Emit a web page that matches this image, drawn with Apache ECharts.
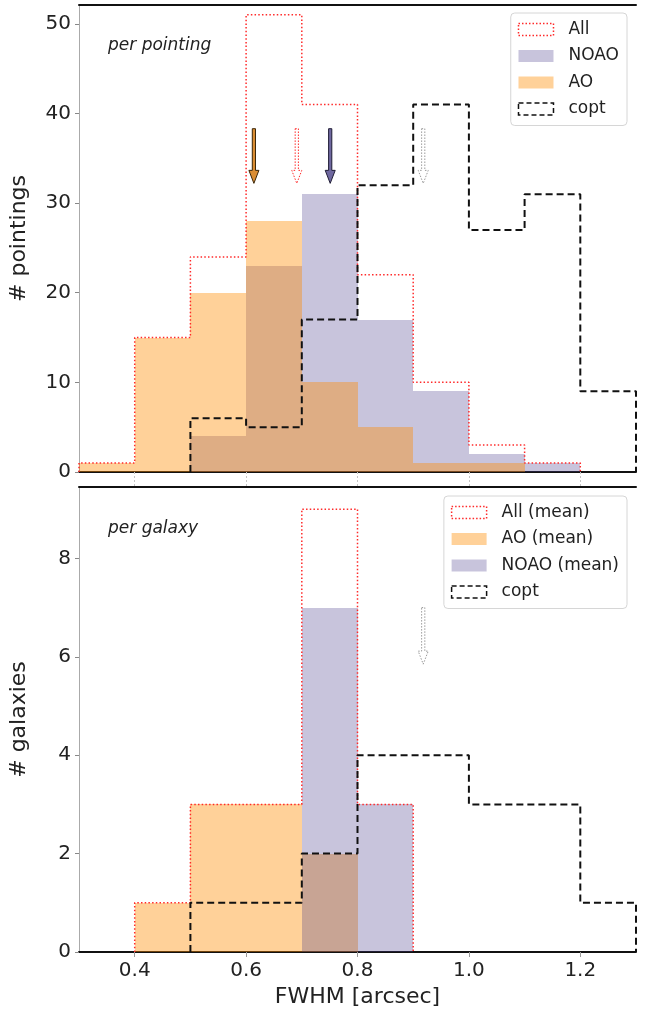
<!DOCTYPE html>
<html>
<head>
<meta charset="utf-8">
<script src="https://cdn.jsdelivr.net/npm/echarts@6/dist/echarts.min.js"></script>
<style>
  html, body { margin: 0; padding: 0; background: #fff; }
  #chart { width: 648px; height: 1010px; }
</style>
</head>
<body>
<div id="chart"></div>
<script>
// FWHM histogram bins (arcsec), 0.1" wide
const binEdges = [0.3, 0.4, 0.5, 0.6, 0.7, 0.8, 0.9, 1.0, 1.1, 1.2, 1.3];

// Counts per pointing
const pointAll  = [1, 15, 24, 51, 41, 22, 10, 3, 1, 0];
const pointNOAO = [0, 0, 4, 23, 31, 17, 9, 2, 1, 0];
const pointAO   = [1, 15, 20, 28, 10, 5, 1, 1, 0, 0];
const pointCopt = [0, 0, 6, 5, 17, 32, 41, 27, 31, 9];

// Counts per galaxy (mean FWHM)
const galAll  = [0, 1, 3, 3, 9, 3, 0, 0, 0, 0];
const galAO   = [0, 1, 3, 3, 2, 0, 0, 0, 0, 0];
const galNOAO = [0, 0, 0, 0, 7, 3, 0, 0, 0, 0];
const galCopt = [0, 0, 1, 1, 2, 4, 4, 3, 3, 1];

// Mean FWHM markers (arrows): AO, All, NOAO, copt
const meanNames = ['AO', 'All', 'NOAO', 'copt'];
const meanFWHM  = [0.614, 0.691, 0.751, 0.918];
const galMeanNames = ['copt'];
const galMeanFWHM  = [0.918];

// Tick labels
const xTicks = [0.4, 0.6, 0.8, 1.0, 1.2];
const yTicksTop = [0, 10, 20, 30, 40, 50];
const yTicksBottom = [0, 2, 4, 6, 8];

// Arrow vertical extent in each panel (tail, tip), in count units
const arrowSpanTop = [38.3, 32.2];
const arrowSpanBottom = [7.0, 5.85];

const FONT = 'DejaVu Sans';
const AO_FILL = 'rgba(255,140,0,0.4)';
const NOAO_FILL = 'rgba(72,61,139,0.3)';

function stepPoints(counts) {
  // outline of a step histogram, trimmed of empty bins at both ends
  let first = counts.findIndex(c => c > 0);
  let last = counts.length - 1;
  while (last > 0 && counts[last] === 0) last--;
  const pts = [[binEdges[first], 0]];
  for (let i = first; i <= last; i++) {
    pts.push([binEdges[i], counts[i]]);
    pts.push([binEdges[i + 1], counts[i]]);
  }
  pts.push([binEdges[last + 1], 0]);
  return pts;
}

function barData(counts) {
  return counts.map((c, i) => [binEdges[i], binEdges[i + 1], c]).filter(d => d[2] > 0);
}

function renderBar(params, api) {
  const p0 = api.coord([api.value(0), api.value(2)]);
  const p1 = api.coord([api.value(1), 0]);
  const x0 = Math.round(p0[0]), x1 = Math.round(p1[0]);
  const y0 = Math.round(p0[1]), y1 = Math.round(p1[1]);
  return {
    type: 'rect',
    shape: { x: x0, y: y0, width: x1 - x0, height: y1 - y0 },
    style: { fill: api.visual('color') }
  };
}

const arrowStyles = {
  AO:   { fill: 'rgba(215,130,30,0.9)', stroke: '#3b2608', lineWidth: 1, lineDash: null },
  All:  { fill: 'rgba(255,255,255,0)', stroke: '#ff2a2a', lineWidth: 1, lineDash: [1.5, 1.5] },
  NOAO: { fill: 'rgba(95,88,150,0.9)', stroke: '#1f1c35', lineWidth: 1, lineDash: null },
  copt: { fill: 'rgba(255,255,255,0)', stroke: '#9a9a9a', lineWidth: 1, lineDash: [1.5, 1.5] }
};

function makeArrowRenderer(names) {
  return function (params, api) {
    const t = api.coord([api.value(0), api.value(1)]);
    const h = api.coord([api.value(0), api.value(2)]);
    const sw = 1.6, hw = 5, hl = 13;
    const x = t[0], yb = h[1] - hl;
    const s = arrowStyles[names[params.dataIndex]];
    return {
      type: 'polygon',
      shape: {
        points: [
          [x - sw, t[1]], [x + sw, t[1]], [x + sw, yb], [x + hw, yb],
          [x, h[1]], [x - hw, yb], [x - sw, yb]
        ]
      },
      style: { fill: s.fill, stroke: s.stroke, lineWidth: s.lineWidth, lineDash: s.lineDash }
    };
  };
}

function xAxisPair(gridIndex, withLabels) {
  // upper panel: faint ticks reaching across the gap, no labels
  const tickStyle = withLabels
    ? { show: true, inside: false, length: 5, customValues: xTicks, lineStyle: { color: '#999' } }
    : { show: true, inside: false, length: 14, customValues: xTicks,
        lineStyle: { color: '#c4c4c4', type: [2, 2] } };
  return [
    {
      type: 'value', gridIndex, min: 0.3, max: 1.3, position: 'bottom',
      axisLine: { onZero: false, lineStyle: { color: '#111', width: 2 } },
      axisTick: tickStyle,
      axisLabel: {
        show: withLabels, customValues: xTicks, margin: 9,
        formatter: v => Number(v).toFixed(1),
        fontFamily: FONT, fontSize: 20, color: '#222'
      },
      splitLine: { show: false },
      name: withLabels ? 'FWHM [arcsec]' : '',
      nameLocation: 'middle', nameGap: 34,
      nameTextStyle: { fontFamily: FONT, fontSize: 22, color: '#222' }
    },
    {
      type: 'value', gridIndex, min: 0.3, max: 1.3, position: 'top',
      axisLine: { onZero: false, lineStyle: { color: '#111', width: 2 } },
      axisTick: { show: false }, axisLabel: { show: false }, splitLine: { show: false }
    }
  ];
}

function yAxis(gridIndex, max, ticks, name) {
  return {
    type: 'value', gridIndex, min: 0, max,
    axisLine: { show: true, onZero: false, lineStyle: { color: '#aaa', width: 1 } },
    axisTick: { show: true, length: 4, customValues: ticks, lineStyle: { color: '#888' } },
    axisLabel: { customValues: ticks, margin: 8, fontFamily: FONT, fontSize: 20, color: '#222' },
    splitLine: { show: false },
    name, nameLocation: 'middle', nameGap: 49,
    nameTextStyle: { fontFamily: FONT, fontSize: 22, color: '#222' }
  };
}

const legendBase = {
  orient: 'vertical', selectedMode: false,
  right: 21, itemGap: 9.5, padding: [8, 8, 8, 7],
  itemWidth: 35, itemHeight: 12,
  backgroundColor: 'rgba(255,255,255,0.85)',
  borderColor: '#d6d6d6', borderWidth: 1, borderRadius: 4,
  textStyle: { fontFamily: FONT, fontSize: 17, color: '#222', padding: [0, 0, 0, 10] }
};

const legendIcons = {
  all:  { color: 'rgba(0,0,0,0)', borderColor: '#ff2a2a', borderWidth: 1.5, borderType: [1.5, 2] },
  ao:   { color: AO_FILL, borderWidth: 0 },
  noao: { color: NOAO_FILL, borderWidth: 0 },
  copt: { color: 'rgba(0,0,0,0)', borderColor: '#111', borderWidth: 1.5, borderType: [5, 3] }
};

const chart = echarts.init(document.getElementById('chart'), null, { renderer: 'canvas' });

chart.setOption({
  animation: false,
  backgroundColor: '#fff',
  grid: [
    { left: 77, right: 12, top: 5, height: 467 },
    { left: 77, right: 12, top: 487, height: 465 }
  ],
  xAxis: [...xAxisPair(0, false), ...xAxisPair(1, true)],
  yAxis: [
    yAxis(0, 52.1, yTicksTop, '# pointings'),
    yAxis(1, 9.45, yTicksBottom, '# galaxies')
  ],
  legend: [
    Object.assign({}, legendBase, {
      top: 13,
      data: [
        { name: 'All', icon: 'rect', itemStyle: legendIcons.all },
        { name: 'NOAO', icon: 'rect', itemStyle: legendIcons.noao },
        { name: 'AO', icon: 'rect', itemStyle: legendIcons.ao },
        { name: 'copt', icon: 'rect', itemStyle: legendIcons.copt }
      ]
    }),
    Object.assign({}, legendBase, {
      top: 496,
      data: [
        { name: 'All (mean)', icon: 'rect', itemStyle: legendIcons.all },
        { name: 'AO (mean)', icon: 'rect', itemStyle: legendIcons.ao },
        { name: 'NOAO (mean)', icon: 'rect', itemStyle: legendIcons.noao },
        { name: 'copt', icon: 'rect', itemStyle: legendIcons.copt }
      ]
    })
  ],
  graphic: [
    { type: 'text', left: 108, top: 37,
      style: { text: 'per pointing', font: 'italic 17px "DejaVu Sans"', fill: '#222' } },
    { type: 'text', left: 108, top: 520,
      style: { text: 'per galaxy', font: 'italic 17px "DejaVu Sans"', fill: '#222' } }
  ],
  series: [
    // per pointing: NOAO fill, then AO fill on top
    { name: 'NOAO', type: 'custom', xAxisIndex: 0, yAxisIndex: 0, renderItem: renderBar,
      itemStyle: { color: NOAO_FILL }, encode: { x: [0, 1], y: 2 }, data: barData(pointNOAO), z: 2 },
    { name: 'AO', type: 'custom', xAxisIndex: 0, yAxisIndex: 0, renderItem: renderBar,
      itemStyle: { color: AO_FILL }, encode: { x: [0, 1], y: 2 }, data: barData(pointAO), z: 3 },
    { name: 'All', type: 'line', xAxisIndex: 0, yAxisIndex: 0, symbol: 'none', z: 4,
      lineStyle: { color: '#ff2a2a', width: 1.5, type: [1.5, 2.2] }, itemStyle: { color: '#ff2a2a' },
      data: stepPoints(pointAll) },
    { name: 'copt', type: 'line', xAxisIndex: 0, yAxisIndex: 0, symbol: 'none', z: 5,
      lineStyle: { color: '#111', width: 2, type: [7, 4] }, itemStyle: { color: '#111' },
      data: stepPoints(pointCopt) },
    { name: 'means', type: 'custom', xAxisIndex: 0, yAxisIndex: 0, z: 6,
      renderItem: makeArrowRenderer(meanNames), encode: { x: 0, y: [1, 2] },
      data: meanFWHM.map(v => [v, arrowSpanTop[0], arrowSpanTop[1]]) },

    // per galaxy: AO fill, then NOAO fill on top
    { name: 'AO (mean)', type: 'custom', xAxisIndex: 2, yAxisIndex: 1, renderItem: renderBar,
      itemStyle: { color: AO_FILL }, encode: { x: [0, 1], y: 2 }, data: barData(galAO), z: 2 },
    { name: 'NOAO (mean)', type: 'custom', xAxisIndex: 2, yAxisIndex: 1, renderItem: renderBar,
      itemStyle: { color: NOAO_FILL }, encode: { x: [0, 1], y: 2 }, data: barData(galNOAO), z: 3 },
    { name: 'All (mean)', type: 'line', xAxisIndex: 2, yAxisIndex: 1, symbol: 'none', z: 4,
      lineStyle: { color: '#ff2a2a', width: 1.5, type: [1.5, 2.2] }, itemStyle: { color: '#ff2a2a' },
      data: stepPoints(galAll) },
    { name: 'copt', type: 'line', xAxisIndex: 2, yAxisIndex: 1, symbol: 'none', z: 5,
      lineStyle: { color: '#111', width: 2, type: [7, 4] }, itemStyle: { color: '#111' },
      data: stepPoints(galCopt) },
    { name: 'galaxy means', type: 'custom', xAxisIndex: 2, yAxisIndex: 1, z: 6,
      renderItem: makeArrowRenderer(galMeanNames), encode: { x: 0, y: [1, 2] },
      data: galMeanFWHM.map(v => [v, arrowSpanBottom[0], arrowSpanBottom[1]]) }
  ]
});
</script>
</body>
</html>
